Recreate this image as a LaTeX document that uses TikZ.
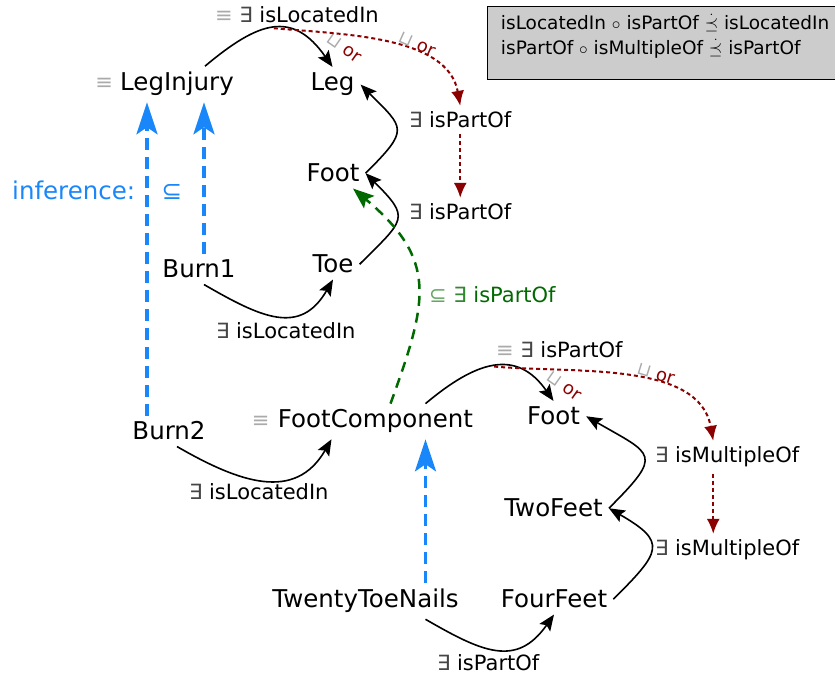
\documentclass[tikz,border=0pt]{standalone}
\usepackage{fontspec}
\setmainfont{DejaVu Sans}
\usetikzlibrary{arrows.meta,positioning}
\definecolor{infblue}{RGB}{25,135,250}
\definecolor{incgreen}{RGB}{0,105,0}
\definecolor{orred}{RGB}{139,0,0}
\definecolor{eqgray}{RGB}{170,170,170}
\definecolor{exgray}{RGB}{70,70,70}
\definecolor{boxgray}{RGB}{204,204,204}
\newcommand{\eqv}{\textcolor{eqgray}{≡}}
\newcommand{\ex}{\textcolor{exgray}{∃}}
\newcommand{\orlb}{\textcolor{eqgray}{⊔} \textcolor{orred}{or}}
\newcommand{\subrole}{\mathrel{\dot{\preceq}}}
\tikzset{cls/.style={font=\fontsize{24.5}{29}\selectfont,inner sep=6pt,anchor=base},
  rel/.style={font=\fontsize{21}{25}\selectfont,inner sep=6pt,anchor=base west},
  eqmark/.style={font=\fontsize{21}{25}\selectfont,text=eqgray,inner sep=0pt},
  orlab/.style={font=\fontsize{18}{20}\selectfont,inner sep=1.5pt},
  link/.style={-{Stealth[length=16pt,width=13pt,inset=3pt]},line width=1.6pt},
  chain/.style={-{Latex[length=15pt,width=13pt]},orred,line width=2pt,dash pattern=on 4pt off 3pt},
  infer/.style={-{Stealth[length=32pt,width=21pt,inset=7pt]},infblue,line width=3.5pt,dash pattern=on 12pt off 7pt},
  incl/.style={-{Stealth[length=21pt,width=16pt,inset=4pt]},incgreen,line width=2.5pt,dash pattern=on 10pt off 7pt}}
\begin{document}
\begin{tikzpicture}[x=1pt,y=1pt]
\useasboundingbox (0,0) rectangle (835,677);
\clip (0,0) rectangle (835,677);
\node[draw,fill=boxgray,line width=1.2pt,anchor=north west,align=left,inner xsep=10pt,inner ysep=8pt,text depth=17pt,minimum width=355pt,font=\fontsize{18.5}{25}\selectfont] (rbox) at (487,671)
  {isLocatedIn $\circ$ isPartOf $\subrole$ isLocatedIn\\isPartOf $\circ$ isMultipleOf $\subrole$ isPartOf};
% classes
\node[cls] (leginj) at (177,586) {LegInjury};
\node[eqmark,left=1pt of leginj] (leginjeq) {≡};
\node[cls] (leg) at (332.5,586) {Leg};
\node[cls] (foot) at (333,495) {Foot};
\node[cls] (toe) at (333,404) {Toe};
\node[cls] (burna) at (199,399) {Burn1};
\node[cls] (burnb) at (169,237) {Burn2};
\node[cls] (footcomp) at (375.5,249) {FootComponent};
\node[eqmark,left=2pt of footcomp] (footcompeq) {≡};
\node[cls] (footb) at (553.5,252) {Foot};
\node[cls] (twofeet) at (553.5,160) {TwoFeet};
\node[cls] (fourfeet) at (554,69) {FourFeet};
\node[cls] (nails) at (365.5,69) {TwentyToeNails};
\node[font=\fontsize{24.5}{29}\selectfont,text=infblue,inner sep=0pt,anchor=base west] (inflb) at (12,477) {inference:};
\node[font=\fontsize{24.5}{29}\selectfont,text=infblue,inner sep=0pt,base right=26pt of inflb] (infsub) {⊆};
% role labels
\node[rel] (lbtop) at (209,654) {\eqv{} \ex{} isLocatedIn};
\node[rel] (lbpa) at (403,549) {\ex{} isPartOf};
\node[rel] (lbpb) at (403,457) {\ex{} isPartOf};
\node[rel] (lbloca) at (210,338) {\ex{} isLocatedIn};
\node[rel,text=incgreen] (lbincl) at (423,374) {\textcolor{incgreen!60}{⊆} \textcolor{incgreen!80}{∃} isPartOf};
\node[rel] (lbpc) at (490,319) {\eqv{} \ex{} isPartOf};
\node[rel] (lblocb) at (183,177) {\ex{} isLocatedIn};
\node[rel] (lbmula) at (649,214) {\ex{} isMultipleOf};
\node[rel] (lbmulb) at (649,121) {\ex{} isMultipleOf};
\node[rel] (lbpd) at (431,6) {\ex{} isPartOf};
\node[orlab,rotate=-35] (ora) at (344,629) {\orlb};
\node[orlab,rotate=-35] (orc) at (564,291) {\orlb};
% upper chain
\draw[link] ([xshift=28pt]leginj.north) to[out=40,in=125,looseness=1.4] coordinate[pos=0.5] (toppeak) (leg.north);
\draw[chain] (toppeak) to[out=-5,in=100,looseness=0.9] node[orlab,sloped,above,pos=0.62] (orb) {\orlb} (lbpa.north);
\draw[chain] (lbpa.south) -- (lbpb.north);
\draw[link] (foot.east) to[out=45,in=-45,looseness=1.8] (leg.east);
\draw[link] (toe.east) to[out=45,in=-45,looseness=1.8] (foot.east);
\draw[link] ([xshift=5pt]burna.south) to[out=-30,in=-120,looseness=1.3] (toe.south);
\coordinate (bluea) at ([xshift=5pt]burna.north);
\coordinate (blueb) at ([xshift=-22pt]burnb.north);
\draw[infer] (bluea) -- (bluea |- leginj.south);
\draw[infer] (blueb) -- (blueb |- leginj.south);
\draw[incl] ([xshift=15pt]footcomp.north) to[out=70,in=-40,looseness=1.3] ([xshift=20pt]foot.south);
% lower chain
\draw[link] ([xshift=8pt]burnb.south) to[out=-30,in=-120,looseness=1.2] ([xshift=-44pt]footcomp.south);
\draw[link] ([xshift=50pt]footcomp.north) to[out=40,in=125,looseness=1.3] coordinate[pos=0.5] (botpeak) (footb.north);
\draw[chain] (botpeak) to[out=-5,in=100,looseness=0.9] node[orlab,sloped,above,pos=0.6] (ord) {\orlb} ([xshift=-14pt]lbmula.north);
\draw[chain] ([xshift=-14pt]lbmula.south) -- ([xshift=-14pt]lbmulb.north);
\draw[link] (twofeet.east) to[out=45,in=-30,looseness=2.1] (footb.east);
\draw[link] (fourfeet.east) to[out=45,in=-30,looseness=1.9] (twofeet.east);
\coordinate (bluec) at ([xshift=60pt]nails.north);
\draw[infer] (bluec) -- (bluec |- footcomp.south);
\draw[link] ([xshift=60pt]nails.south) to[out=-30,in=-125,looseness=1.3] (fourfeet.south);
\end{tikzpicture}
\end{document}
